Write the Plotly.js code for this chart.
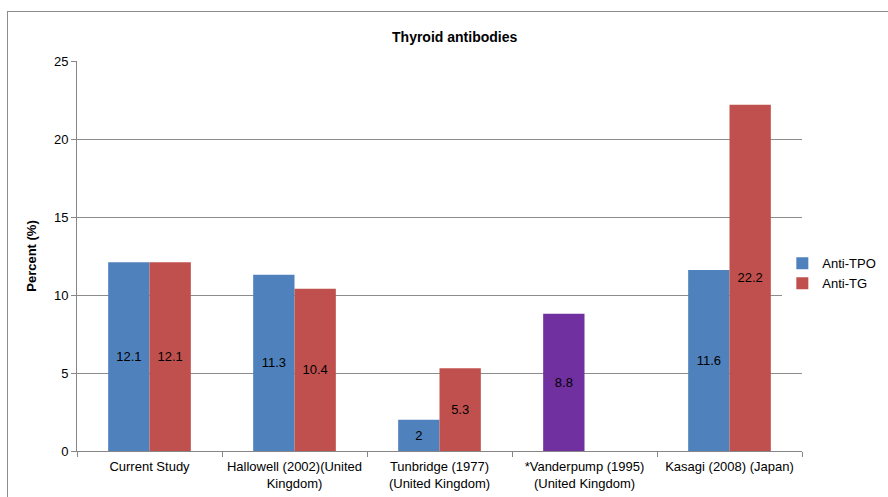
<!DOCTYPE html>
<html>
<head>
<meta charset="utf-8">
<script src="https://cdn.plot.ly/plotly-3.0.1.min.js"></script>
<style>
html,body{margin:0;padding:0;background:#fff;}
#wrap{position:relative;width:888px;height:497px;overflow:hidden;}
#chart{width:888px;height:497px;}
#frame{position:absolute;left:7px;top:11px;width:900px;height:500px;border:1px solid #8c8c8c;pointer-events:none;}
</style>
</head>
<body>
<div id="wrap"><div id="chart"></div><div id="frame"></div></div>
<script>
const categories = ["Current Study", "Hallowell (2002)(United<br>Kingdom)", "Tunbridge (1977)<br>(United Kingdom)", "*Vanderpump (1995)<br>(United Kingdom)", "Kasagi (2008) (Japan)"];
const antiTPO = [12.1, 11.3, 2, 8.8, 11.6];
const antiTG = [12.1, 10.4, 5.3, null, 22.2];
const tpoColors = ["#4F81BD", "#4F81BD", "#4F81BD", "#7030A0", "#4F81BD"];
const tgColor = "#C0504D";
const yTicks = [0, 5, 10, 15, 20, 25];

const font = "Liberation Sans Narrow, Liberation Sans, Arial, sans-serif";
const fmt = v => v === null ? "" : String(v);

const traces = [
  {type: "bar", name: "Anti-TPO", x: categories, y: antiTPO,
   marker: {color: tpoColors}, text: antiTPO.map(fmt), textposition: "inside",
   insidetextanchor: "middle", textangle: 0, constraintext: "none",
   textfont: {family: font, size: 13, color: "#000"}, hoverinfo: "y"},
  {type: "bar", name: "Anti-TG", x: categories, y: antiTG,
   marker: {color: tgColor}, text: antiTG.map(fmt), textposition: "inside",
   insidetextanchor: "middle", textangle: 0, constraintext: "none",
   textfont: {family: font, size: 13, color: "#000"}, hoverinfo: "y"}
];

const layout = {
  width: 888, height: 497,
  margin: {l: 77, r: 86, t: 61, b: 46, autoexpand: false},
  paper_bgcolor: "#fff", plot_bgcolor: "#fff",
  font: {family: font, size: 12, color: "#000"},
  title: {text: "<b>Thyroid antibodies</b>", x: 0.512, xref: "container", y: 0.935, yref: "container",
          font: {family: font, size: 14, color: "#000"}},
  barmode: "group", bargap: 0.43, bargroupgap: 0,
  showlegend: true,
  legend: {x: 0.881, xref: "container", xanchor: "left", y: 0.45, yref: "container", yanchor: "middle",
           font: {family: font, size: 13, color: "#000"}, itemwidth: 30, tracegroupgap: 4},
  xaxis: {type: "category", showline: true, linecolor: "#868686", linewidth: 1,
          ticks: "outside", tickson: "boundaries", ticklen: 5, tickcolor: "#868686",
          ticklabelstandoff: 3,
          showgrid: false, tickfont: {family: font, size: 13, color: "#000"}, automargin: false},
  yaxis: {range: [0, 25], tickvals: yTicks, showline: true, linecolor: "#868686", linewidth: 1,
          ticks: "outside", ticklen: 5, tickcolor: "#868686",
          showgrid: true, gridcolor: "#8c8c8c", gridwidth: 1, zeroline: false,
          tickfont: {family: font, size: 13, color: "#000"},
          title: {text: "<b>Percent (%)</b>", font: {family: font, size: 13, color: "#000"}, standoff: 14},
          automargin: false}
};

Plotly.newPlot("chart", traces, layout, {displayModeBar: false, staticPlot: true});
</script>
</body>
</html>
